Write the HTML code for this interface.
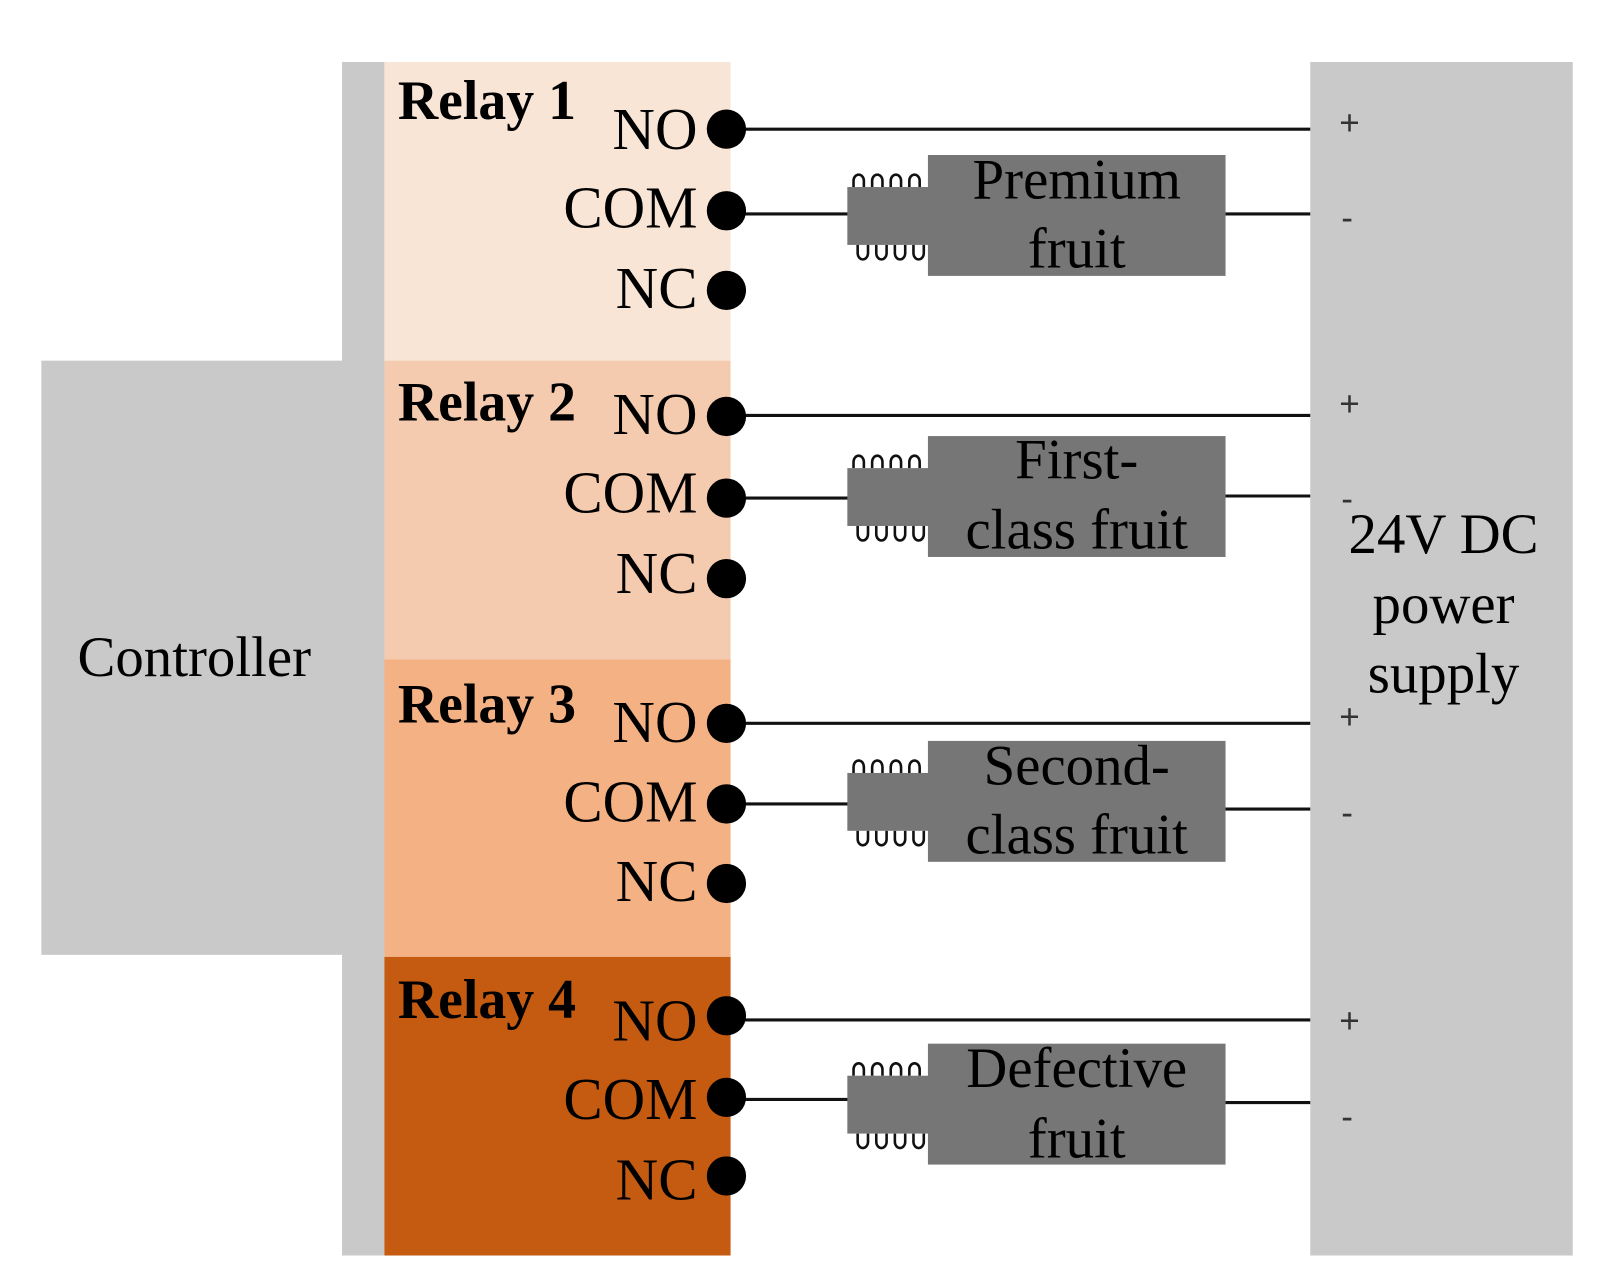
<!DOCTYPE html>
<html><head><meta charset="utf-8"><style>html,body{margin:0;padding:0;background:#fff}svg{display:block}</style></head><body>
<svg width="1612" height="1286" viewBox="0 0 1560 1244.5" preserveAspectRatio="none" xmlns="http://www.w3.org/2000/svg" font-family="Liberation Serif, serif">
<rect x="331" y="60" width="41" height="1155" fill="#c9c9c9"/>
<rect x="40" y="349" width="332" height="575" fill="#c9c9c9"/>
<text x="188" y="654" font-size="55" text-anchor="middle">Controller</text>
<rect x="372" y="60" width="335" height="289" fill="#f9e5d6"/>
<rect x="372" y="349" width="335" height="289" fill="#f5cbb0"/>
<rect x="372" y="638" width="335" height="288" fill="#f4b183"/>
<rect x="372" y="926" width="335" height="289" fill="#c55a11"/>
<rect x="1268" y="60" width="254" height="1155" fill="#c9c9c9"/>
<g font-size="55" text-anchor="middle"><text x="1397" y="535">24V DC</text><text x="1397" y="603">power</text><text x="1397" y="670">supply</text></g>
<g font-size="54" font-weight="bold"><text x="385" y="115">Relay 1</text><text x="385" y="407">Relay 2</text><text x="385" y="699">Relay 3</text><text x="385" y="985">Relay 4</text></g>
<g font-size="57" text-anchor="end">
<text x="675" y="144">NO</text><text x="675" y="220">COM</text><text x="675" y="298">NC</text>
<text x="675" y="420">NO</text><text x="675" y="496">COM</text><text x="675" y="574">NC</text>
<text x="675" y="718">NO</text><text x="675" y="795">COM</text><text x="675" y="872">NC</text>
<text x="675" y="1007">NO</text><text x="675" y="1083">COM</text><text x="675" y="1161">NC</text>
</g>
<g stroke="#111" stroke-width="3">
<line x1="703" y1="125" x2="1268" y2="125"/><line x1="703" y1="402" x2="1268" y2="402"/><line x1="703" y1="700" x2="1268" y2="700"/><line x1="703" y1="987" x2="1268" y2="987"/>
<line x1="703" y1="207" x2="822" y2="207"/><line x1="1186" y1="207" x2="1268" y2="207"/>
<line x1="703" y1="482" x2="822" y2="482"/><line x1="1186" y1="480" x2="1268" y2="480"/>
<line x1="703" y1="778" x2="822" y2="778"/><line x1="1186" y1="783" x2="1268" y2="783"/>
<line x1="703" y1="1064" x2="822" y2="1064"/><line x1="1186" y1="1067" x2="1268" y2="1067"/>
</g>
<g fill="#000">
<circle cx="703" cy="125" r="19"/><circle cx="703" cy="204" r="19"/><circle cx="703" cy="281" r="19"/>
<circle cx="703" cy="403" r="19"/><circle cx="703" cy="482" r="19"/><circle cx="703" cy="560" r="19"/>
<circle cx="703" cy="700" r="19"/><circle cx="703" cy="778" r="19"/><circle cx="703" cy="855" r="19"/>
<circle cx="703" cy="983" r="19"/><circle cx="703" cy="1062" r="19"/><circle cx="703" cy="1138" r="19"/>
</g>
<g font-size="34" font-family="Liberation Sans, sans-serif" fill="#333">
<text x="1296" y="130">+</text><text x="1298" y="222">-</text>
<text x="1296" y="402">+</text><text x="1298" y="494">-</text>
<text x="1296" y="705">+</text><text x="1298" y="798">-</text>
<text x="1296" y="999">+</text><text x="1298" y="1092">-</text>
</g>
<defs>
<g id="act">
<path d="M826,0 v-6 a5,6 0 0 1 10,0 v6 M844,0 v-6 a5,6 0 0 1 10,0 v6 M862,0 v-6 a5,6 0 0 1 10,0 v6 M880,0 v-6 a5,6 0 0 1 10,0 v6" fill="none" stroke="#111" stroke-width="2.5"/>
<path d="M830,56 v8 a5,6 0 0 0 10,0 v-8 M848,56 v8 a5,6 0 0 0 10,0 v-8 M866,56 v8 a5,6 0 0 0 10,0 v-8 M884,56 v8 a5,6 0 0 0 10,0 v-8" fill="none" stroke="#111" stroke-width="2.5"/>
<rect x="820" y="0" width="80" height="56" fill="#767676"/>
<rect x="898" y="-31" width="288" height="117" fill="#767676"/>
</g>
</defs>
<use href="#act" y="181"/>
<use href="#act" y="453"/>
<use href="#act" y="748"/>
<use href="#act" y="1041"/>
<g font-size="55" text-anchor="middle">
<text x="1042" y="192">Premium</text><text x="1042" y="259">fruit</text>
<text x="1042" y="463">First-</text><text x="1042" y="531">class fruit</text>
<text x="1042" y="759">Second-</text><text x="1042" y="826">class fruit</text>
<text x="1042" y="1052">Defective</text><text x="1042" y="1120">fruit</text>
</g>
</svg>
</body></html>
